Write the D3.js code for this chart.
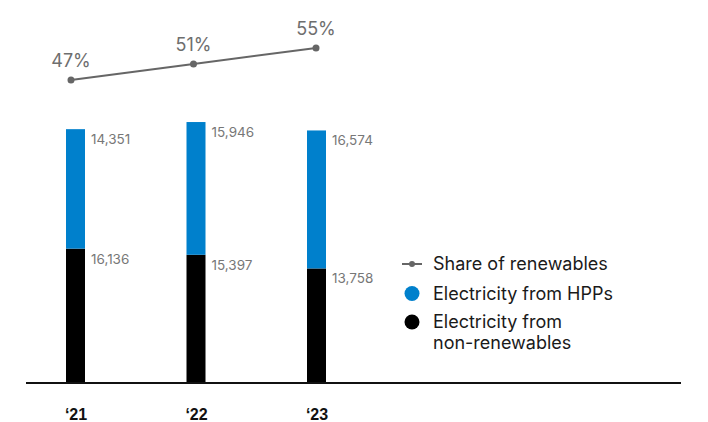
<!DOCTYPE html>
<html>
<head>
<meta charset="utf-8">
<script src="https://cdn.jsdelivr.net/npm/d3@7"></script>
<style>
  html, body { margin: 0; padding: 0; background: #fff; }
  svg { display: block; }
  text { font-family: Inter, "Noto Sans", sans-serif; }
</style>
</head>
<body>
<svg id="chart" width="708" height="422"></svg>
<script>
// Electricity generation by year, with the renewable share
const years = ["‘21", "‘22", "‘23"];
const hppValues = [14351, 15946, 16574];          // electricity from HPPs
const nonRenewableValues = [16136, 15397, 13758]; // electricity from non-renewables
const renewableShare = [47, 51, 55];              // share of renewables, %
const legendLabels = [["Share of renewables"], ["Electricity from HPPs"], ["Electricity from", "non-renewables"]];

const colors = { hpp: "#0080cc", nonRen: "#000000", share: "#666666" };

const svg = d3.select("#chart");
const baseY = 383;

const x = d3.scalePoint().domain(years).range([75.5, 316.5]);
const xLine = d3.scalePoint().domain(years).range([71, 316]);
const y = d3.scaleLinear().domain([0, 46000]).range([baseY, 0]);
const yShare = d3.scaleLinear().domain([47, 55]).range([80, 48]);
const barW = 19;

const rows = years.map((yr, i) => ({
  year: yr,
  nonRen: nonRenewableValues[i],
  hpp: hppValues[i],
  share: renewableShare[i]
}));

const stack = d3.stack().keys(["nonRen", "hpp"])(rows);

// stacked bars
const layer = svg.append("g").selectAll("g")
  .data(stack).join("g")
  .attr("fill", d => colors[d.key]);

layer.selectAll("rect")
  .data(d => d.map(p => ({ key: d.key, p })))
  .join("rect")
  .attr("x", d => x(d.p.data.year) - barW / 2)
  .attr("width", barW)
  .attr("y", d => y(d.p[1]))
  .attr("height", d => y(d.p[0]) - y(d.p[1]));

// value labels beside each segment
layer.selectAll("text")
  .data(d => d.map(p => ({ key: d.key, p })))
  .join("text")
  .attr("x", d => x(d.p.data.year) + barW / 2 + 6)
  .attr("y", d => y(d.p[1]) + 15)
  .attr("fill", "#777")
  .attr("font-size", 13.5)
  .text(d => d3.format(",")(d.p[1] - d.p[0]));

// baseline
svg.append("line")
  .attr("x1", 26).attr("x2", 681)
  .attr("y1", baseY).attr("y2", baseY)
  .attr("stroke", "#111").attr("stroke-width", 2);

// x axis labels
const xAxis = svg.append("g")
  .attr("transform", `translate(0,${baseY})`)
  .call(d3.axisBottom(x).tickSize(0));
xAxis.select(".domain").remove();
xAxis.selectAll("text")
  .attr("y", 36.5).attr("dy", 0)
  .attr("fill", "#111")
  .style("font-family", "'Liberation Sans', Arial, sans-serif")
  .style("font-weight", "bold")
  .style("font-size", "16px");

// renewable share line
const line = d3.line().x(d => xLine(d.year)).y(d => yShare(d.share));
svg.append("path")
  .datum(rows)
  .attr("d", line)
  .attr("fill", "none")
  .attr("stroke", colors.share)
  .attr("stroke-width", 2);

svg.append("g").selectAll("circle")
  .data(rows).join("circle")
  .attr("cx", d => xLine(d.year))
  .attr("cy", d => yShare(d.share))
  .attr("r", 3.5)
  .attr("fill", colors.share);

svg.append("g").selectAll("text")
  .data(rows).join("text")
  .attr("x", d => xLine(d.year))
  .attr("y", d => yShare(d.share) - 13)
  .attr("text-anchor", "middle")
  .attr("fill", "#6e6e6e")
  .attr("font-size", 18)
  .text(d => d.share + "%");

// legend
const legend = svg.append("g");
const legendY = [269.5, 299.5, 328];
const legendKinds = ["share", "hpp", "nonRen"];

legendLabels.forEach((lines, i) => {
  const g = legend.append("g");
  const cy = legendY[i] - 5.5;
  if (legendKinds[i] === "share") {
    g.append("line")
      .attr("x1", 402).attr("x2", 422)
      .attr("y1", cy).attr("y2", cy)
      .attr("stroke", colors.share).attr("stroke-width", 2);
    g.append("circle").attr("cx", 412).attr("cy", cy).attr("r", 3).attr("fill", colors.share);
  } else {
    g.append("circle").attr("cx", 412).attr("cy", cy - 0.5).attr("r", 7.5).attr("fill", colors[legendKinds[i]]);
  }
  const t = g.append("text")
    .attr("x", 433).attr("y", legendY[i])
    .attr("fill", "#1a1a1a")
    .attr("font-size", 18);
  lines.forEach((s, j) => {
    t.append("tspan").attr("x", 433).attr("dy", j === 0 ? 0 : 20.5).text(s);
  });
});
</script>
</body>
</html>
